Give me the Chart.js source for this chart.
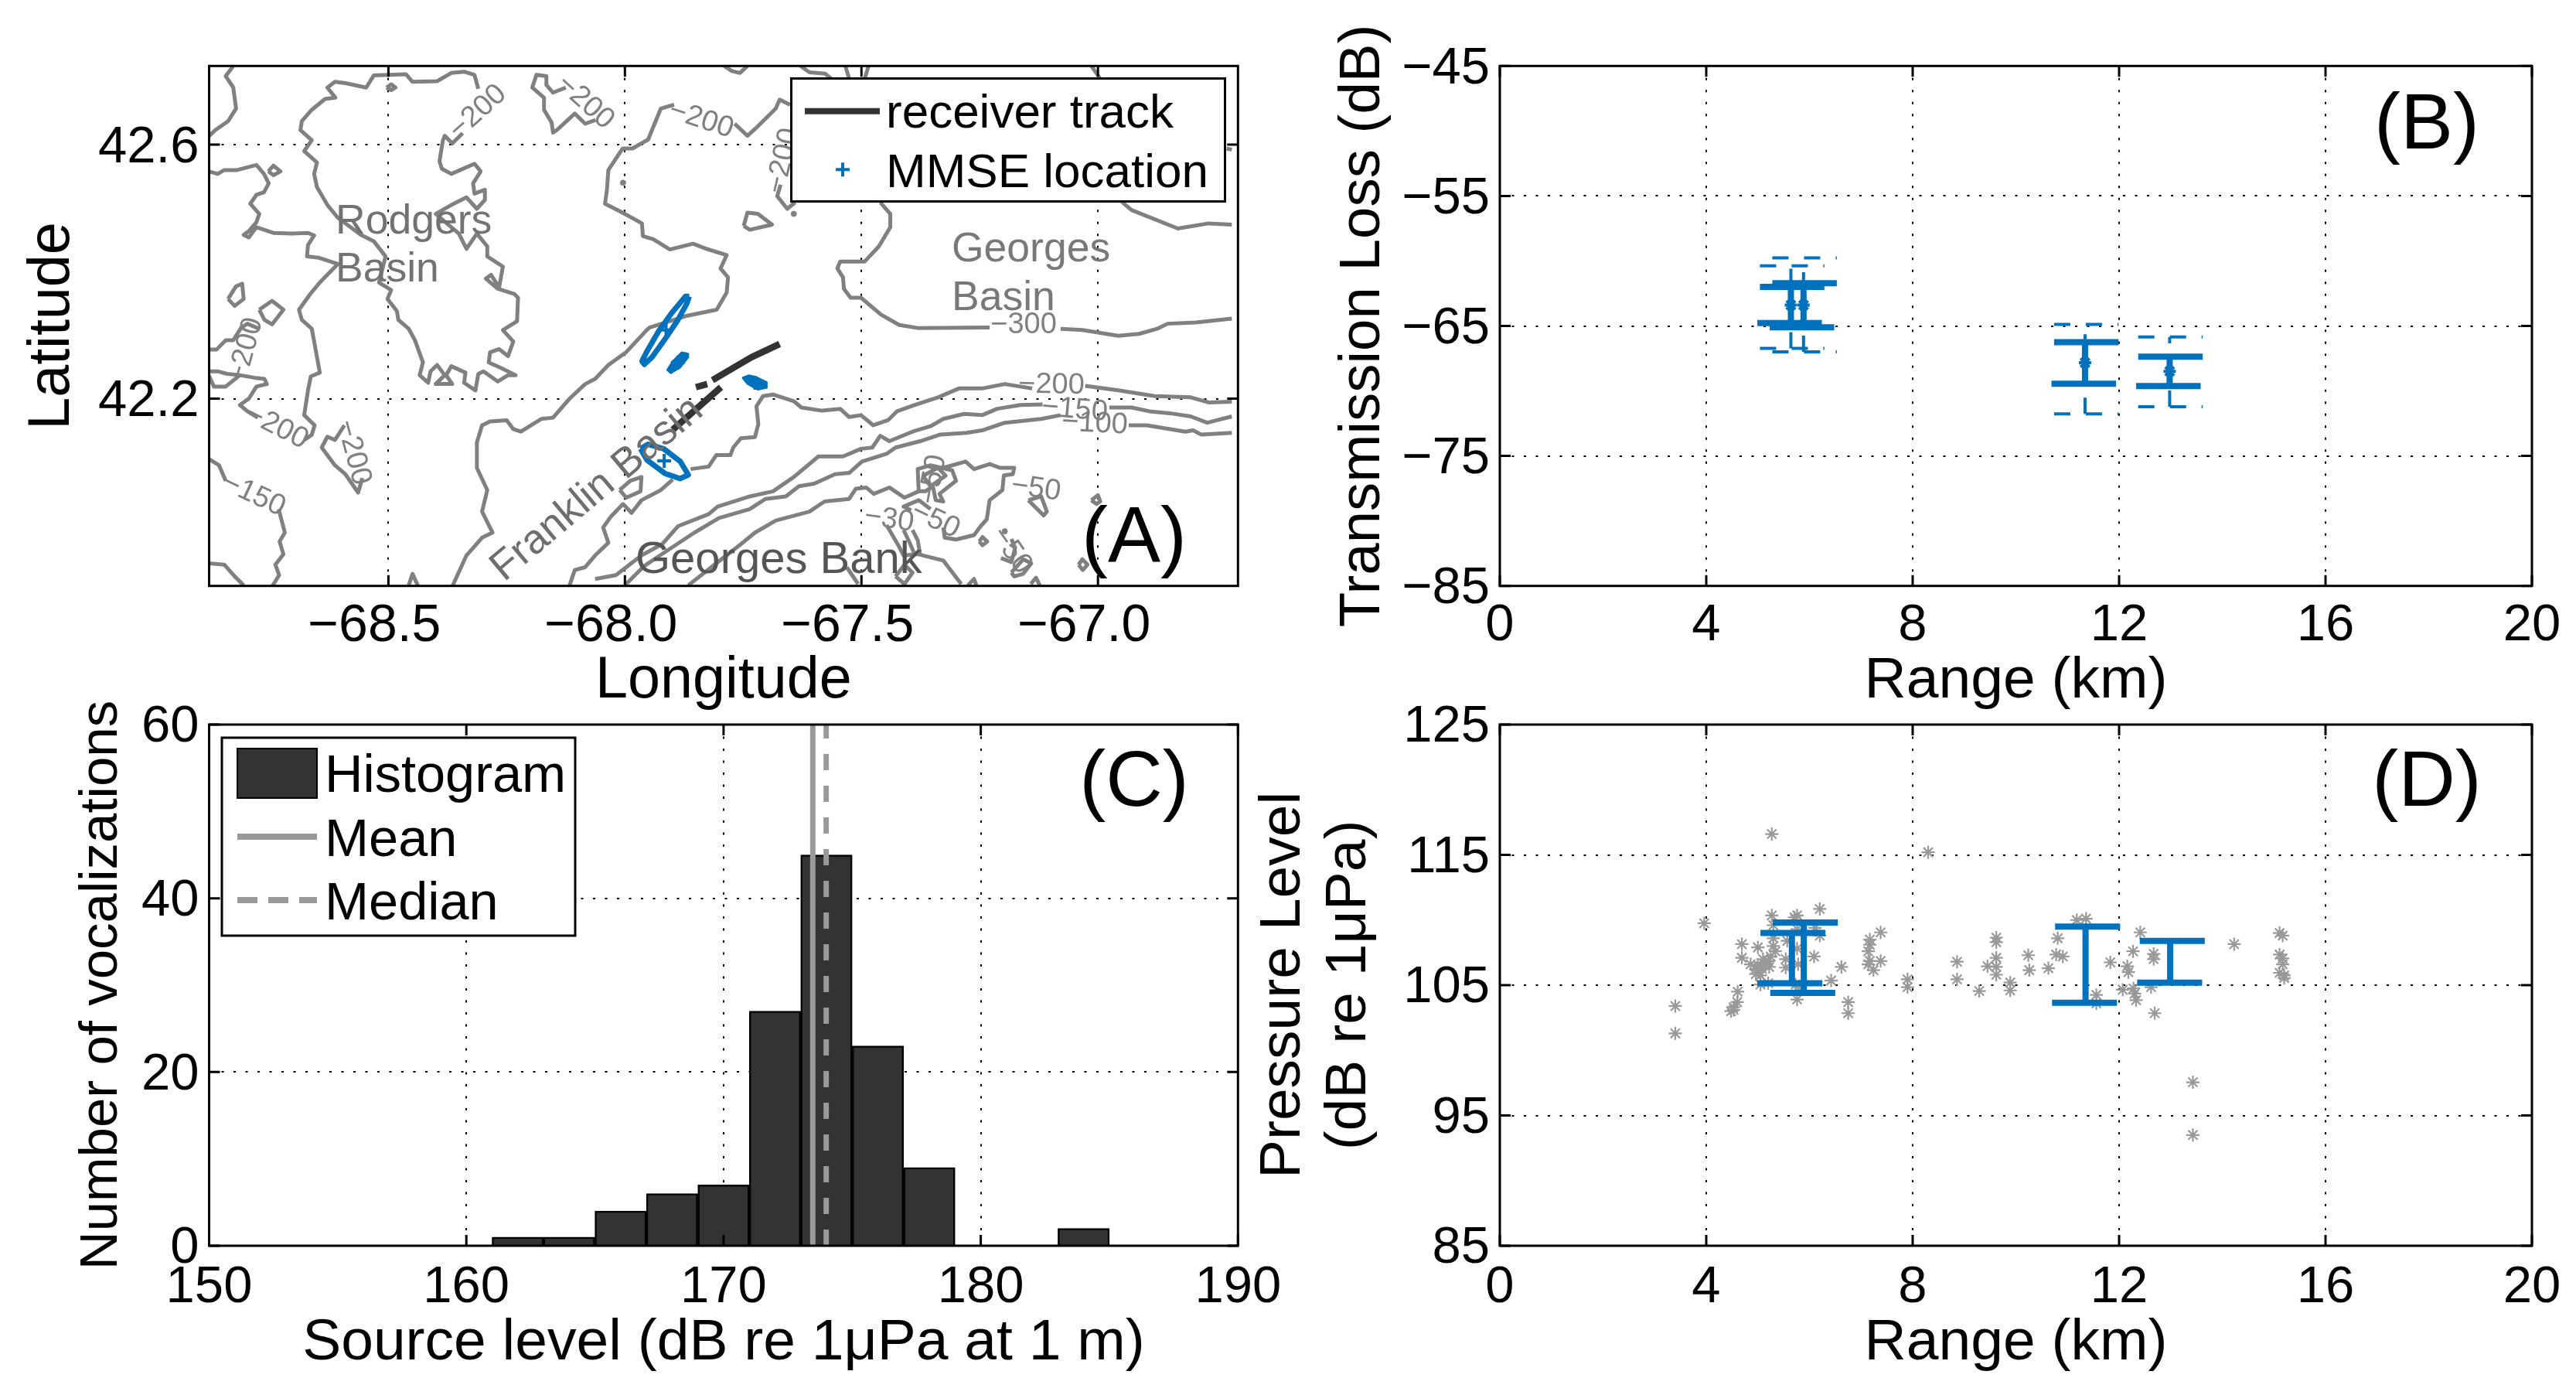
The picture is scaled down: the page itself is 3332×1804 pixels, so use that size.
<!DOCTYPE html>
<html><head><meta charset="utf-8">
<style>html,body{margin:0;padding:0;background:#fff;width:3332px;height:1804px;overflow:hidden}
canvas{position:absolute}</style>
<script src="https://cdn.jsdelivr.net/npm/chart.js@4"></script>
</head><body>
<canvas id="a" style="left:0;top:0"></canvas>
<canvas id="b" style="left:1610px;top:0"></canvas>
<canvas id="c" style="left:0;top:900px"></canvas>
<canvas id="d" style="left:1610px;top:900px"></canvas>
<script>
// ---------- Panel A: bathymetry contours (lon, lat) ----------
const contourTopLeft=[[-68.828,42.724],[-68.844,42.708],[-68.828,42.690],[-68.822,42.657],[-68.839,42.637],[-68.866,42.623],[-68.880,42.613]];
const contourRodgers=[[-68.310,42.688],[-68.318,42.710],[-68.340,42.715],[-68.367,42.713],[-68.397,42.700],[-68.449,42.699],[-68.463,42.711],[-68.531,42.709],[-68.547,42.690],[-68.591,42.697],[-68.613,42.699],[-68.629,42.690],[-68.612,42.674],[-68.634,42.672],[-68.662,42.655],[-68.683,42.637],[-68.686,42.623],[-68.662,42.607],[-68.678,42.590],[-68.651,42.572],[-68.657,42.554],[-68.651,42.533],[-68.629,42.505],[-68.607,42.485],[-68.558,42.458],[-68.531,42.448],[-68.506,42.424],[-68.520,42.383],[-68.494,42.371],[-68.502,42.357],[-68.482,42.338],[-68.479,42.324],[-68.457,42.310],[-68.444,42.292],[-68.427,42.257],[-68.434,42.237],[-68.416,42.225],[-68.411,42.243],[-68.397,42.253],[-68.381,42.237],[-68.400,42.223],[-68.365,42.223],[-68.378,42.237],[-68.367,42.251],[-68.337,42.241],[-68.340,42.225],[-68.316,42.213],[-68.310,42.239],[-68.299,42.243],[-68.269,42.227],[-68.247,42.237],[-68.231,42.237],[-68.264,42.249],[-68.288,42.257],[-68.285,42.273],[-68.266,42.278],[-68.247,42.267],[-68.236,42.290],[-68.258,42.308],[-68.228,42.322],[-68.226,42.359],[-68.234,42.365],[-68.269,42.373],[-68.294,42.389],[-68.283,42.395],[-68.266,42.375],[-68.258,42.408],[-68.291,42.424],[-68.291,42.440],[-68.313,42.460],[-68.335,42.436],[-68.351,42.460],[-68.400,42.491],[-68.367,42.505],[-68.335,42.517],[-68.313,42.499],[-68.296,42.513],[-68.296,42.529],[-68.318,42.523],[-68.321,42.539],[-68.305,42.558],[-68.318,42.570],[-68.367,42.554],[-68.387,42.562],[-68.392,42.574],[-68.385,42.606],[-68.381,42.614],[-68.365,42.602],[-68.343,42.618]];
const contourWest=[[-68.880,42.558],[-68.861,42.554],[-68.847,42.560],[-68.820,42.560],[-68.779,42.568],[-68.763,42.554],[-68.753,42.539],[-68.763,42.525],[-68.779,42.521],[-68.792,42.507],[-68.773,42.491],[-68.779,42.478],[-68.795,42.464],[-68.806,42.458],[-68.795,42.454],[-68.779,42.470],[-68.743,42.461],[-68.705,42.460],[-68.670,42.461],[-68.657,42.457],[-68.670,42.442],[-68.672,42.424],[-68.648,42.422],[-68.607,42.412],[-68.645,42.383],[-68.667,42.363],[-68.689,42.340],[-68.683,42.324],[-68.662,42.310],[-68.656,42.286],[-68.645,42.241],[-68.664,42.235],[-68.670,42.213],[-68.678,42.174],[-68.656,42.158],[-68.662,42.143],[-68.678,42.135]];
const contourEdgeA=[[-68.880,42.2775],[-68.863,42.2775],[-68.844,42.292],[-68.828,42.292],[-68.811,42.312],[-68.798,42.318],[-68.773,42.310]];
const contourEdgeB=[[-68.880,42.243],[-68.861,42.243],[-68.841,42.239],[-68.814,42.237],[-68.784,42.233],[-68.762,42.231],[-68.757,42.223],[-68.779,42.219],[-68.795,42.200],[-68.814,42.190],[-68.798,42.180],[-68.776,42.170]];
const contourEdgeC=[[-68.880,42.237],[-68.869,42.219],[-68.844,42.219],[-68.814,42.237]];
const contourSouthWest=[[-68.593,42.158],[-68.613,42.135],[-68.629,42.140],[-68.641,42.123],[-68.613,42.095],[-68.591,42.081],[-68.564,42.052],[-68.555,42.075]];
const contour150a=[[-68.880,42.105],[-68.858,42.095],[-68.844,42.0705]];
const contour150b=[[-68.732,42.026],[-68.719,41.989],[-68.730,41.975],[-68.722,41.955],[-68.739,41.9385],[-68.731,41.922],[-68.746,41.904]];
const contourCorner=[[-68.880,41.9405],[-68.847,41.9385],[-68.825,41.920],[-68.806,41.906]];
const loopA=[[-68.754,42.558],[-68.743,42.567],[-68.728,42.558],[-68.743,42.552],[-68.754,42.558]];
const loopB=[[-68.839,42.357],[-68.822,42.377],[-68.809,42.381],[-68.806,42.357],[-68.825,42.346],[-68.839,42.357]];
const loopC=[[-68.773,42.340],[-68.746,42.354],[-68.722,42.340],[-68.746,42.317],[-68.762,42.324],[-68.773,42.340]];
const loopD=[[-68.504,42.690],[-68.494,42.695],[-68.485,42.690],[-68.494,42.686],[-68.504,42.690]];
const contourNorthA=[[-68.125,42.690],[-68.152,42.682],[-68.166,42.694],[-68.166,42.708],[-68.187,42.710],[-68.196,42.690],[-68.171,42.674],[-68.171,42.655],[-68.155,42.635],[-68.152,42.619],[-68.144,42.623],[-68.106,42.649],[-68.084,42.633],[-68.062,42.639]];
const contourTopA=[[-67.790,42.724],[-67.774,42.716],[-67.757,42.713],[-67.741,42.724]];
const contourTopB=[[-67.629,42.724],[-67.610,42.714],[-67.577,42.712],[-67.564,42.704]];
const contourTopC=[[-67.534,42.724],[-67.526,42.704]];
const contourTopD=[[-67.485,42.724],[-67.493,42.704]];
const contourTopE=[[-67.014,42.724],[-66.997,42.706],[-66.948,42.509],[-66.929,42.497],[-66.831,42.468],[-66.766,42.476],[-66.717,42.474]];
const contourTopF=[[-66.728,42.594],[-66.717,42.592]];
const contourMain=[[-67.896,42.663],[-67.924,42.657],[-67.951,42.608],[-67.984,42.594],[-68.005,42.594],[-68.035,42.560],[-68.038,42.529],[-68.042,42.507],[-68.005,42.493],[-67.964,42.476],[-67.962,42.456],[-67.940,42.451],[-67.905,42.435],[-67.856,42.444],[-67.828,42.436],[-67.785,42.426],[-67.798,42.405],[-67.782,42.391],[-67.785,42.367],[-67.806,42.340],[-67.872,42.330],[-67.948,42.312],[-67.954,42.308],[-67.997,42.2735],[-68.035,42.253],[-68.063,42.231],[-68.084,42.223],[-68.117,42.200],[-68.152,42.170],[-68.177,42.168],[-68.220,42.148],[-68.236,42.152],[-68.250,42.166],[-68.285,42.164],[-68.302,42.158],[-68.313,42.131],[-68.313,42.091],[-68.291,42.056],[-68.302,42.022],[-68.280,41.989],[-68.302,41.981],[-68.335,41.953],[-68.365,41.904]];
const contourMainEast=[[-67.768,42.633],[-67.741,42.614],[-67.719,42.629],[-67.681,42.657],[-67.673,42.671],[-67.651,42.663]];
const contourTail=[[-67.671,42.537],[-67.678,42.519],[-67.657,42.499],[-67.640,42.509]];
const loopE=[[-67.749,42.472],[-67.741,42.493],[-67.719,42.491],[-67.689,42.474],[-67.736,42.466],[-67.749,42.472]];
const contour300=[[-67.460,42.509],[-67.439,42.491],[-67.439,42.470],[-67.463,42.440],[-67.493,42.416],[-67.545,42.416],[-67.551,42.405],[-67.539,42.391],[-67.537,42.373],[-67.523,42.359],[-67.501,42.359],[-67.458,42.332],[-67.420,42.316],[-67.379,42.311],[-67.229,42.312]];
const contour300East=[[-67.079,42.310],[-67.033,42.308],[-66.957,42.299],[-66.913,42.302],[-66.875,42.310],[-66.853,42.318],[-66.793,42.320],[-66.717,42.326]];
const contour200Bay=[[-67.861,42.089],[-67.823,42.093],[-67.807,42.111],[-67.777,42.111],[-67.771,42.123],[-67.755,42.1375],[-67.725,42.1395],[-67.718,42.160],[-67.722,42.188],[-67.708,42.204],[-67.687,42.2065],[-67.643,42.196],[-67.627,42.186],[-67.583,42.181],[-67.545,42.184],[-67.526,42.171],[-67.501,42.174],[-67.475,42.158],[-67.444,42.166],[-67.425,42.180],[-67.387,42.190],[-67.338,42.202],[-67.294,42.216],[-67.245,42.216],[-67.197,42.223],[-67.139,42.216]];
const contour200East=[[-67.027,42.220],[-66.957,42.213],[-66.880,42.204],[-66.804,42.202],[-66.766,42.194],[-66.717,42.195]];
const contour200South=[[-67.899,42.0725],[-67.924,42.056],[-67.965,42.040],[-67.986,42.020],[-68.004,42.034],[-68.030,42.014],[-68.046,41.997],[-68.035,41.973],[-68.063,41.953],[-68.084,41.9345],[-68.106,41.930],[-68.117,41.906]];
const loopF=[[-68.011,42.056],[-67.989,42.0705],[-67.965,42.0765],[-67.967,42.054],[-67.997,42.044],[-68.011,42.056]];
const contour150=[[-68.063,41.916],[-68.019,41.922],[-67.965,41.953],[-67.921,41.971],[-67.888,41.999],[-67.823,42.018],[-67.804,42.030],[-67.736,42.046],[-67.687,42.054],[-67.643,42.0765],[-67.591,42.109],[-67.539,42.109],[-67.501,42.121],[-67.477,42.123],[-67.460,42.1415],[-67.441,42.133],[-67.392,42.148],[-67.354,42.1565],[-67.327,42.168],[-67.283,42.176],[-67.245,42.174],[-67.213,42.184],[-67.164,42.190],[-67.117,42.191]];
const contour150East=[[-66.976,42.186],[-66.929,42.186],[-66.891,42.180],[-66.848,42.177],[-66.804,42.172],[-66.769,42.162],[-66.717,42.172]];
const contour100=[[-68.000,41.906],[-67.959,41.9365],[-67.926,41.953],[-67.853,41.989],[-67.801,42.012],[-67.736,42.026],[-67.703,42.042],[-67.660,42.046],[-67.632,42.062],[-67.600,42.066],[-67.556,42.081],[-67.526,42.083],[-67.499,42.101],[-67.447,42.113],[-67.428,42.123],[-67.376,42.133],[-67.333,42.1435],[-67.278,42.146],[-67.245,42.150],[-67.197,42.162],[-67.120,42.168],[-67.079,42.174]];
const contour100East=[[-66.935,42.158],[-66.897,42.158],[-66.815,42.148],[-66.799,42.150],[-66.782,42.1435],[-66.717,42.146]];
const contour50=[[-67.866,41.906],[-67.807,41.9405],[-67.758,41.969],[-67.725,41.989],[-67.681,42.008],[-67.610,42.022],[-67.578,42.038],[-67.526,42.042],[-67.512,42.058],[-67.490,42.060],[-67.474,42.050],[-67.441,42.060],[-67.409,42.044],[-67.379,42.054],[-67.381,42.089],[-67.354,42.095],[-67.308,42.087],[-67.300,42.0705],[-67.335,42.050],[-67.327,42.038],[-67.343,42.040],[-67.349,42.062],[-67.365,42.054],[-67.379,42.054]];
const contour50Inner=[[-67.370,42.0785],[-67.338,42.091],[-67.322,42.0785],[-67.354,42.062],[-67.370,42.0785]];
const contour50East=[[-67.327,42.091],[-67.280,42.101],[-67.262,42.089],[-67.229,42.097],[-67.207,42.091],[-67.177,42.091],[-67.180,42.081],[-67.199,42.079],[-67.202,42.056],[-67.229,42.040],[-67.235,42.010],[-67.248,41.999],[-67.262,41.985],[-67.300,41.978],[-67.324,41.981],[-67.327,41.997]];
const bankA=[[-67.395,42.024],[-67.411,42.030],[-67.379,42.040],[-67.354,42.026]];
const bankB=[[-67.447,42.001],[-67.422,41.969],[-67.411,41.953],[-67.381,41.955],[-67.327,41.945],[-67.289,41.908]];
const bankC=[[-67.411,41.993],[-67.398,41.973],[-67.389,41.957]];
const bankD=[[-67.392,41.993],[-67.381,41.977],[-67.376,41.955]];
const bankE=[[-67.531,41.9345],[-67.507,41.908]];
const bankF=[[-67.428,41.920],[-67.409,41.9385],[-67.392,41.926],[-67.409,41.908],[-67.428,41.920]];
const triA=[[-67.275,41.906],[-67.262,41.916],[-67.257,41.906]];
const triB=[[-67.142,41.908],[-67.131,41.918],[-67.123,41.906]];
const triC=[[-68.457,41.906],[-68.449,41.924],[-68.438,41.906]];
const loopG=[[-67.014,42.040],[-67.000,42.048],[-66.995,42.038],[-67.003,42.034],[-67.014,42.040]];
const loopH=[[-67.041,41.9385],[-67.033,41.947],[-67.022,41.9385],[-67.032,41.930],[-67.041,41.9385]];
const loopI=[[-67.251,41.975],[-67.244,41.982],[-67.234,41.975],[-67.244,41.969],[-67.251,41.975]];
const loopJ=[[-67.147,42.040],[-67.115,42.016],[-67.108,42.022],[-67.120,42.046],[-67.147,42.040]];
const loopK=[[-67.183,41.926],[-67.158,41.947],[-67.141,41.9405],[-67.158,41.924],[-67.177,41.920],[-67.183,41.926]];
const bankG=[[-67.205,41.949],[-67.183,41.9425],[-67.175,41.965],[-67.183,41.979]];
const contourDots=[[-68.004,42.540],[-67.643,42.491],[-67.197,41.991]];
const contours=[contourTopLeft,contourRodgers,contourWest,contourEdgeA,contourEdgeB,contourEdgeC,contourSouthWest,contour150a,contour150b,contourCorner,loopA,loopB,loopC,loopD,contourNorthA,contourTopA,contourTopB,contourTopC,contourTopD,contourTopE,contourTopF,contourMain,contourMainEast,contourTail,loopE,contour300,contour300East,contour200Bay,contour200East,contour200South,loopF,contour150,contour150East,contour100,contour100East,contour50,contour50Inner,contour50East,bankA,bankB,bankC,bankD,bankE,bankF,bankG,triA,triB,triC,loopG,loopH,loopI,loopJ,loopK];
const trackA=[[-67.673,42.286],[-67.733,42.265],[-67.815,42.229]];
const trackB=[[-67.826,42.223],[-67.850,42.218]];
const trackC=[[-67.797,42.218],[-67.899,42.151]];
const ringNorth=[[-67.864,42.361],[-67.869,42.350],[-67.888,42.324],[-67.915,42.294],[-67.943,42.265],[-67.959,42.254],[-67.964,42.259],[-67.953,42.275],[-67.929,42.306],[-67.902,42.334],[-67.872,42.361],[-67.864,42.361]];
const ringSouth=[[-67.967,42.121],[-67.951,42.128],[-67.918,42.121],[-67.883,42.101],[-67.866,42.080],[-67.883,42.074],[-67.915,42.082],[-67.953,42.103],[-67.967,42.121]];
const blobWest=[[-67.866,42.271],[-67.880,42.273],[-67.899,42.259],[-67.911,42.245],[-67.903,42.240],[-67.883,42.249],[-67.866,42.265],[-67.866,42.271]];
const blobEast=[[-67.752,42.233],[-67.738,42.237],[-67.722,42.234],[-67.700,42.226],[-67.700,42.217],[-67.719,42.214],[-67.741,42.223],[-67.752,42.233]];
const mmseLon=[-67.913,-67.888,-67.725,-67.917];
const mmseLat=[42.308,42.257,42.225,42.102];
const lonTicks=[-68.5,-68,-67.5,-67];
const lonTickLabels=['−68.5','−68.0','−67.5','−67.0'];
const latTicks=[42.2,42.6];
const latTickLabels=['42.2','42.6'];

// ---------- Panel B: transmission loss ----------
const tlRange=[5.64,5.885,11.34,12.98];
const tlMean=[-63.4,-63.4,-67.83,-68.49];
const tlUpper=[-62.0,-61.71,-66.25,-67.36];
const tlLower=[-64.78,-65.1,-69.44,-69.62];
const tlOuterUpper=[-60.38,-59.77,-64.88,-65.85];
const tlOuterLower=[-66.72,-67.0,-71.76,-71.22];
const tlCapStartUpper=[5.04,5.28,10.74,12.37];
const tlCapStartLower=[4.99,5.23,10.69,12.33];
const tlCapLength=1.25;
const rangeTicks=[0,4,8,12,16,20];
const tlTicks=[-85,-75,-65,-55,-45];
const tlTickLabels=['−85','−75','−65','−55','−45'];

// ---------- Panel C: histogram ----------
const slBins=[162,164,166,168,170,172,174,176,178,180,182,184];
const slCounts=[1,1,4,6,7,27,45,23,9,0,0,2];
const slMean=173.47;
const slMedian=173.99;
const slTicks=[150,160,170,180,190];
const countTicks=[0,20,40,60];

// ---------- Panel D: received level ----------
const rlRange=[5.27,8.30,3.96,5.27,5.76,6.2,6.2,4.69,4.69,5.0,5.3,5.3,5.34,5.25,5.15,5.05,4.96,4.86,5.05,5.05,5.54,5.54,5.78,6.09,6.62,6.42,5.76,6.75,6.75,4.61,4.6,4.53,3.4,3.4,7.38,7.17,7.17,7.14,7.17,7.38,7.14,7.24,7.9,7.9,8.86,8.86,9.29,9.45,9.62,9.62,9.62,9.62,9.62,9.89,9.89,10.24,10.26,10.63,10.81,10.78,10.91,11.18,11.36,11.56,11.56,11.83,12.07,12.16,12.18,12.27,12.28,12.3,12.33,12.41,12.62,12.67,12.67,12.69,13.43,13.43,14.23,15.11,15.17,15.11,15.17,15.17,15.11,15.2,15.2,5.3,5.76,6.11,5.57,5.76,5.1,5.0,5.22,4.96,5.08,5.2,5.73,5.78,5.2,4.53,4.48,5.71];
const rlPressure=[116.6,115.2,109.75,110.35,110.35,110.85,108.8,108.15,107.1,107.9,108.6,108,107.6,107.2,106.6,106.45,106.25,106.6,105.75,105.05,107,106.35,106.6,107.2,106.4,105.35,103.9,103.7,102.85,104.5,103.7,103.1,103.4,101.3,109.05,108.5,108.1,107.6,106.85,106.85,106.6,106.15,105.45,104.85,106.8,105.45,104.55,106.45,108.65,108.3,107.1,106.4,105.8,105.2,104.6,107.3,106.15,106.3,108.6,107.35,107.2,110,110.1,104.25,103.6,106.75,104.65,106.45,106,107.6,104.75,104.35,103.85,109.05,104.85,107.4,107,102.85,97.55,93.5,108.15,109,108.8,107.35,107.05,106.6,105.95,105.75,105.55,109.6,109.3,109.4,108.4,107.8,107,106.5,106.4,105.85,106.25,106.85,105.05,104.85,105.15,103.3,103,110.2];
const rlBarRange=[5.66,5.89,11.35,12.99];
const rlUpper=[109.0,109.8,109.5,108.4];
const rlLower=[105.15,104.4,103.65,105.2];
const rlCapStartUpper=[5.05,5.29,10.76,12.4];
const rlCapStartLower=[4.99,5.24,10.7,12.35];
const rlCapLength=1.26;
const rlTicks=[85,95,105,115,125];

// ---------- rendering ----------
const FONT='"Liberation Sans"';
const BLUE='#0071BC', DARK='#333333', GREY='#808080', STAR='#999999';
Chart.defaults.font.family=FONT;
const xy=a=>a.map(p=>({x:p[0],y:p[1]}));
const seg=(pts,color,width,extra)=>Object.assign({data:pts,showLine:true,borderColor:color,borderWidth:width,pointRadius:0,tension:0,borderCapStyle:'butt',borderJoinStyle:'round',fill:false,order:1},extra||{});

const decor={id:'decor',afterDraw(chart,_a,o){
  const c=chart.ctx,ar=chart.chartArea;
  c.save();
  c.strokeStyle='#000';c.lineWidth=3;c.setLineDash([]);
  const tl=14;
  c.beginPath();
  chart.scales.x.ticks.forEach(t=>{const p=chart.scales.x.getPixelForValue(t.value);c.moveTo(p,ar.bottom);c.lineTo(p,ar.bottom-tl);c.moveTo(p,ar.top);c.lineTo(p,ar.top+tl);});
  chart.scales.y.ticks.forEach(t=>{const p=chart.scales.y.getPixelForValue(t.value);c.moveTo(ar.left,p);c.lineTo(ar.left+tl,p);c.moveTo(ar.right,p);c.lineTo(ar.right-tl,p);});
  c.stroke();
  c.strokeRect(ar.left,ar.top,ar.right-ar.left,ar.bottom-ar.top);
  c.translate(-o.ox,-o.oy);
  (o.texts||[]).forEach(t=>{
    c.save();c.translate(t.x,t.y);c.rotate((t.a||0)*Math.PI/180);
    c.font=t.s+'px '+FONT;c.fillStyle=t.c;c.textAlign=t.al||'left';c.textBaseline=t.b||'alphabetic';
    c.fillText(t.t,0,0);c.restore();
  });
  if(o.legend)o.legend(c);
  c.restore();
}};

function axis(ticks,labels,min,max,size,title,extra){
  const cfg={type:'linear',min,max,
    afterBuildTicks:s=>{s.ticks=ticks.map(value=>({value}));},
    afterFit:s=>{if(s.isHorizontal())s.height=size;else s.width=size;s.paddingLeft=s.paddingRight=s.paddingTop=s.paddingBottom=0;},
    ticks:{autoSkip:false,maxRotation:0,minRotation:0,color:'#000',font:{size:extra.ts||67,family:FONT},padding:extra.pad,labelOffset:extra.off||0,
      callback:v=>{const i=ticks.indexOf(v);return labels?labels[i]:String(v);}},
    grid:{color:'#000',lineWidth:2,drawTicks:false,tickLength:0,offset:false},
    border:{display:false,dash:[3,12.5]},
    title:Object.assign({display:true,color:'#000',text:title},extra.title)};
  return cfg;
}
function make(id,type,datasets,geom,xa,ya,decorOpts){
  const cv=document.getElementById(id);
  cv.width=geom.w;cv.height=geom.h;
  return new Chart(cv,{type,data:{datasets},options:{
    responsive:false,animation:false,devicePixelRatio:1,
    layout:{padding:{top:geom.pt,right:geom.pr,left:0,bottom:0}},
    scales:{x:xa,y:ya},
    plugins:{legend:{display:false},tooltip:{enabled:false},title:{display:false},decor:Object.assign({ox:geom.ox,oy:geom.oy},decorOpts)}
  },plugins:[decor]});
}

// --- A ---
const dsA=[];
contours.forEach(k=>dsA.push(seg(xy(k),GREY,5,{order:5})));
dsA.push({data:xy(contourDots),backgroundColor:GREY,borderColor:GREY,pointRadius:3.5,showLine:false,order:5});
[trackA,trackB,trackC].forEach(k=>dsA.push(seg(xy(k),DARK,8.5,{order:2})));
[ringNorth,ringSouth].forEach(k=>dsA.push(seg(xy(k),BLUE,7,{order:1})));
[blobWest,blobEast].forEach(k=>dsA.push(seg(xy(k),BLUE,2,{order:1,fill:'shape',backgroundColor:BLUE})));
dsA.push({data:mmseLon.map((x,i)=>({x,y:mmseLat[i]})),pointStyle:'cross',pointRadius:9,pointBorderWidth:4,borderColor:BLUE,pointBorderColor:BLUE,showLine:false,order:0});
const contourLabels=[['−200',618,145,-42],['−200',757,132,42],['−200',907,155,18],['−200',1013,208,-77],['−200',318,453,-75],['−200',358,552,27],['−200',457,585,75],['−150',328,640,25],['−300',1324,421,0],['−200',1360,498,1],['−150',1390,530,5],['−100',1416,548,3],['−50',1340,632,8],['−30',1150,672,8],['−50',1210,673,25],['−50',1308,712,55],['−50',1207,620,-80]];
const textsA=contourLabels.map(l=>({t:l[0],x:l[1],y:l[2],a:l[3],s:38,c:GREY,al:'center',b:'middle'})).concat([
 {t:'Rodgers',x:434,y:302,s:53.5,c:'#727272'},{t:'Basin',x:434,y:364,s:53.5,c:'#727272'},
 {t:'Georges',x:1231,y:338,s:53.5,c:'#787878'},{t:'Basin',x:1231,y:401,s:53.5,c:'#787878'},
 {t:'Georges Bank',x:822,y:741,s:58,c:'#555555'},
 {t:'Franklin Basin',x:652,y:753,s:53.5,a:-40,c:'#6e6e6e'},
 {t:'(A)',x:1467,y:727,s:102,c:'#000',al:'center'}]);
make('a','scatter',dsA,{w:1700,h:930,pt:85.3,pr:1700-1601.3,ox:0,oy:0},
 axis(lonTicks,lonTickLabels,-68.879,-66.704,930-757.7,'Longitude',{pad:12,off:-18,ts:68,title:{font:{size:75.5,family:FONT},padding:{top:0,bottom:4}}}),
 axis(latTicks,latTickLabels,41.905,42.724,270.5,'Latitude',{pad:13,off:4,title:{font:{size:75.5,family:FONT},padding:{top:23,bottom:0}}}),
 {texts:textsA,legend(c){
   c.setLineDash([]);c.fillStyle='#fff';c.fillRect(1023.5,101.5,561,159);
   c.strokeStyle='#000';c.lineWidth=3;c.strokeRect(1023.5,101.5,561,159);
   c.strokeStyle=DARK;c.lineWidth=8;c.beginPath();c.moveTo(1041,143.7);c.lineTo(1138,143.7);c.stroke();
   c.strokeStyle=BLUE;c.lineWidth=4;c.beginPath();c.moveTo(1081,219.3);c.lineTo(1099,219.3);c.moveTo(1090,210.3);c.lineTo(1090,228.3);c.stroke();
   c.fillStyle='#000';c.font='62px '+FONT;c.textAlign='left';c.textBaseline='alphabetic';
   c.fillText('receiver track',1146,165);c.fillText('MMSE location',1146,241.7);
 }});

// --- B ---
const dsB=[];
tlRange.forEach((x,i)=>{
  dsB.push(seg(xy([[x,tlOuterLower[i]],[x,tlOuterUpper[i]]]),BLUE,4,{borderDash:[21,20],order:3}));
  [tlOuterUpper[i],tlOuterLower[i]].forEach(y=>dsB.push(seg(xy([[tlCapStartUpper[i],y],[tlCapStartUpper[i]+tlCapLength,y]]),BLUE,4,{borderDash:[21,20],order:3})));
  dsB.push(seg(xy([[x,tlLower[i]],[x,tlUpper[i]]]),BLUE,8,{order:2}));
  dsB.push(seg(xy([[tlCapStartUpper[i],tlUpper[i]],[tlCapStartUpper[i]+tlCapLength,tlUpper[i]]]),BLUE,8,{order:2}));
  dsB.push(seg(xy([[tlCapStartLower[i],tlLower[i]],[tlCapStartLower[i]+tlCapLength,tlLower[i]]]),BLUE,8,{order:2}));
});
dsB.push({data:tlRange.map((x,i)=>({x,y:tlMean[i]})),pointStyle:'star',pointRadius:8,pointBorderWidth:4,pointBorderColor:BLUE,borderColor:BLUE,showLine:false,order:1});
make('b','scatter',dsB,{w:1722,h:930,pt:85.3,pr:1722-(3275-1610),ox:1610,oy:0},
 axis(rangeTicks,null,0,20,930-757.7,'Range (km)',{pad:12,title:{font:{size:75,family:FONT},padding:{top:0,bottom:4}}}),
 axis(tlTicks,tlTickLabels,-85,-45,330,'Transmission Loss (dB)',{pad:13,off:4,title:{font:{size:74.5,family:FONT},padding:{top:109,bottom:0}}}),
 {texts:[{t:'(B)',x:3139,y:192,s:102,c:'#000',al:'center'}]});

// --- C ---
const dsC=[
 {type:'line',data:[{x:slMean,y:0},{x:slMean,y:60}],borderColor:STAR,borderWidth:7,pointRadius:0,order:0},
 {type:'line',data:[{x:slMedian,y:0},{x:slMedian,y:60}],borderColor:STAR,borderWidth:7,pointRadius:0,borderDash:[21,20],order:0},
 {type:'bar',data:slBins.map((x,i)=>({x,y:slCounts[i]})),backgroundColor:DARK,borderColor:'#000',borderWidth:2.5,barPercentage:1,categoryPercentage:1,order:2}
];
make('c','bar',dsC,{w:1700,h:904,pt:37,pr:1700-1601.3,ox:0,oy:900},
 Object.assign(axis(slTicks,null,150,190,904-711,'Source level (dB re 1μPa at 1 m)',{pad:14,title:{font:{size:75,family:FONT},padding:{top:0,bottom:22}}}),{offset:false}),
 axis(countTicks,null,0,60,270.5,'Number of vocalizations',{pad:13,off:4,title:{font:{size:69,family:FONT},padding:{top:91,bottom:0}}}),
 {texts:[{t:'(C)',x:1467,y:1042,s:102,c:'#000',al:'center'}],legend(c){
   c.setLineDash([]);c.fillStyle='#fff';c.fillRect(287,954,457,256);
   c.strokeStyle='#000';c.lineWidth=3;c.strokeRect(287,954,457,256);
   c.fillStyle=DARK;c.fillRect(307,968,103,64);c.lineWidth=2;c.strokeRect(307,968,103,64);
   c.strokeStyle=STAR;c.lineWidth=8;c.beginPath();c.moveTo(307,1082);c.lineTo(410,1082);c.stroke();
   c.setLineDash([26,14]);c.beginPath();c.moveTo(307,1164);c.lineTo(410,1164);c.stroke();c.setLineDash([]);
   c.fillStyle='#000';c.font='68.5px '+FONT;c.textAlign='left';c.textBaseline='alphabetic';
   c.fillText('Histogram',420,1024);c.fillText('Mean',420,1107);c.fillText('Median',420,1189);
 }});

// --- D ---
const dsD=[{data:rlRange.map((x,i)=>({x,y:rlPressure[i]})),pointStyle:'star',pointRadius:8.5,pointBorderWidth:2.2,pointBorderColor:STAR,borderColor:STAR,showLine:false,order:5}];
rlBarRange.forEach((x,i)=>{
  dsD.push(seg(xy([[x,rlLower[i]],[x,rlUpper[i]]]),BLUE,8,{order:1}));
  dsD.push(seg(xy([[rlCapStartUpper[i],rlUpper[i]],[rlCapStartUpper[i]+rlCapLength,rlUpper[i]]]),BLUE,8,{order:1}));
  dsD.push(seg(xy([[rlCapStartLower[i],rlLower[i]],[rlCapStartLower[i]+rlCapLength,rlLower[i]]]),BLUE,8,{order:1}));
});
make('d','scatter',dsD,{w:1722,h:904,pt:37,pr:1722-(3275-1610),ox:1610,oy:900},
 axis(rangeTicks,null,0,20,904-711,'Range (km)',{pad:14,title:{font:{size:75,family:FONT},padding:{top:0,bottom:22}}}),
 axis(rlTicks,null,85,125,330,['Pressure Level','(dB re 1μPa)'],{pad:13,off:4,title:{font:{size:75,family:FONT,lineHeight:1.13},padding:{top:8,bottom:0}}}),
 {texts:[{t:'(D)',x:3139,y:1042,s:102,c:'#000',al:'center'}]});
</script>
</body></html>
